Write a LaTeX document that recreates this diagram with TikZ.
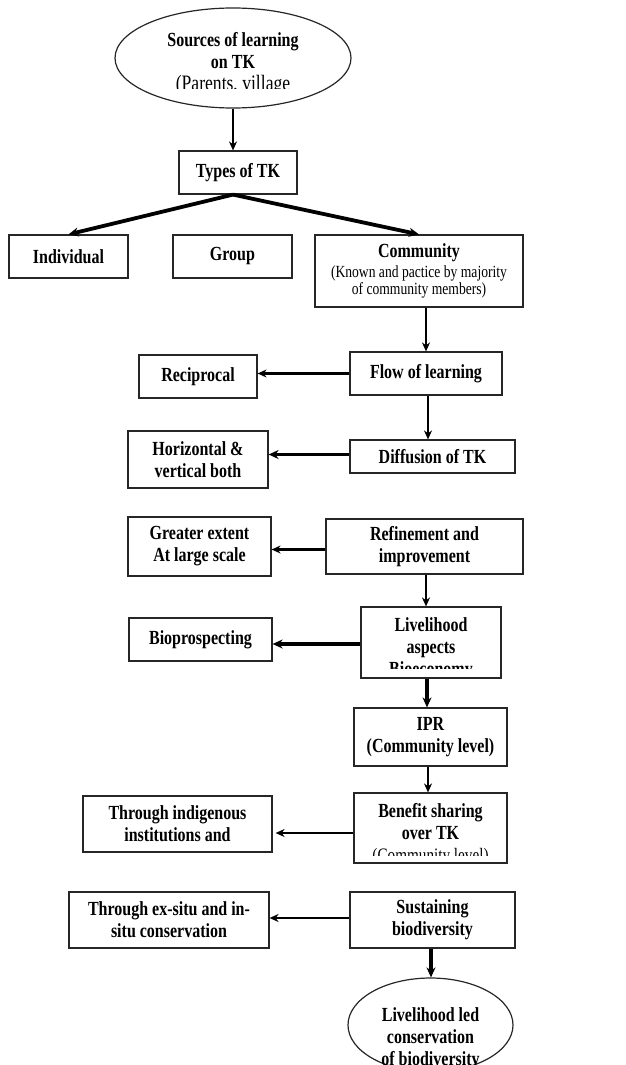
\documentclass[tikz,border=0pt]{standalone}
\usepackage{fontspec}
\setmainfont{Liberation Serif}[FakeStretch=0.8]
\usepackage{tikz}
\usetikzlibrary{arrows.meta,shapes.geometric}

\tikzset{
    tkbox/.style={draw=black!85, line width=1.2pt, inner sep=0pt, align=center,
        font=\bfseries\fontsize{20}{22}\selectfont},
    tkoval/.style={tkbox, ellipse},
    tktext/.style={align=center, inner sep=0pt, font=\bfseries\fontsize{20}{22}\selectfont},
    thinarrow/.style={-{Stealth[length=9pt,width=8pt]}, line width=2.1pt},
    midarrow/.style={-{Stealth[length=9pt,width=8pt]}, line width=2.8pt},
    thickarrow/.style={-{Stealth[length=10pt,width=9pt]}, line width=3.8pt}
}

\begin{document}
\begin{tikzpicture}[x=1pt, y=-1pt, >=Stealth]

    \useasboundingbox (0,0) rectangle (626,1065);

    % Sources
    \node[tkoval, minimum width=236pt, minimum height=100pt] (src) at (233,58) {};
    \begin{scope}
        \clip (110,0) rectangle (360,88);
        \node[tktext] (srctext) at (233,63.5)
            {Sources of learning\\on TK\\{\mdseries\fontsize{22}{22}\selectfont (Parents, village}};
    \end{scope}

    % Types of TK
    \node[tkbox, minimum width=118pt, minimum height=43pt] (types) at (238,172.5) {Types of TK};
    \node[tkbox, minimum width=119pt, minimum height=43pt] (indiv) at (68.5,256.5) {Individual};
    \node[tkbox, minimum width=119pt, minimum height=43pt] (group) at (232.5,256.5) {Group};
    \node[tkbox, minimum width=208pt, minimum height=72pt] (comm) at (419,271)
        {Community\\[-2pt]{\mdseries\fontsize{17}{18}\selectfont (Known and pactice by majority}\\[-5pt]{\mdseries\fontsize{17}{18}\selectfont of community members)}};

    % Right column
    \node[tkbox, minimum width=152pt, minimum height=43pt] (flow) at (426,373.5) {Flow of learning};
    \node[tkbox, minimum width=165pt, minimum height=33pt] (diff) at (432.5,456.5) {Diffusion of TK};
    \node[tkbox, minimum width=197pt, minimum height=55pt] (refine) at (424.5,546.5) {Refinement and\\improvement};
    \node[tkbox, minimum width=140pt, minimum height=71pt] (liveli) at (431,642.5) {};
    \begin{scope}
        \clip (361,607) rectangle (501,668);
        \node[tktext] (livelitext) at (431,648.5) {Livelihood\\aspects\\Bioeconomy};
    \end{scope}
    \node[tkbox, minimum width=153pt, minimum height=58pt] (ipr) at (430.5,737) {IPR\\(Community level)};
    \node[tkbox, minimum width=153pt, minimum height=70pt] (benefit) at (430.5,828) {};
    \begin{scope}
        \clip (354,793) rectangle (507,855);
        \node[tktext] (benefittext) at (430.5,834)
            {Benefit sharing\\over TK\\{\mdseries\fontsize{19}{22}\selectfont (Community level)}};
    \end{scope}
    \node[tkbox, minimum width=165pt, minimum height=56pt] (sustain) at (432.5,920) {Sustaining\\biodiversity};
    \node[tkoval, minimum width=165pt, minimum height=94pt] (goal) at (430.5,1025) {};
    \node[tktext] (goaltext) at (430.5,1039) {Livelihood led\\conservation\\of biodiversity};

    % Left column
    \node[tkbox, minimum width=118pt, minimum height=43pt] (recip) at (198,376.5) {Reciprocal};
    \node[tkbox, minimum width=140pt, minimum height=57pt] (horiz) at (198,459.5) {Horizontal \&\\vertical both};
    \node[tkbox, minimum width=143pt, minimum height=59pt] (greater) at (199.5,546.5) {Greater extent\\At large scale};
    \node[tkbox, minimum width=143pt, minimum height=43pt] (biopro) at (200.5,639.5) {Bioprospecting};
    \node[tkbox, minimum width=189pt, minimum height=56pt] (indig) at (177.5,824) {Through indigenous\\institutions and};
    \node[tkbox, minimum width=200pt, minimum height=56pt] (exsitu) at (169,920) {Through ex-situ and in-\\situ conservation};

    % Arrows down
    \draw[thinarrow] (src.south) -- (src.south |- types.north);
    \draw[thickarrow] ([xshift=-5pt]types.south) -- (indiv.north);
    \draw[thickarrow] ([xshift=-5pt]types.south) -- (comm.north);
    \draw[midarrow] (flow.north |- comm.south) -- (flow.north);
    \draw[midarrow] ([xshift=2pt]flow.south) -- ([xshift=2pt]flow.south |- diff.north);
    \draw[midarrow] ([xshift=1.5pt]refine.south) -- ([xshift=1.5pt]refine.south |- liveli.north);
    \draw[thickarrow] ([xshift=-4pt]liveli.south) -- ([xshift=-4pt]liveli.south |- ipr.north);
    \draw[thinarrow] ([xshift=-2.5pt]ipr.south) -- ([xshift=-2.5pt]ipr.south |- benefit.north);
    \draw[thickarrow] ([xshift=-1.5pt]sustain.south) -- ([xshift=-1.5pt]sustain.south |- goal.north);

    % Arrows left
    \draw[thinarrow] (flow.west) -- (flow.west -| recip.east);
    \draw[thickarrow] ([yshift=2pt]diff.west) -- ([yshift=2pt]diff.west -| horiz.east);
    \draw[midarrow] ([yshift=-3pt]refine.west) -- ([yshift=-3pt]refine.west -| greater.east);
    \draw[thickarrow] ([yshift=-1.5pt]liveli.west) -- ([yshift=-1.5pt]liveli.west -| biopro.east);
    \draw[thinarrow] ([yshift=-5pt]benefit.west) -- ([yshift=-5pt,xshift=3pt]benefit.west -| indig.east);
    \draw[thinarrow] ([yshift=2pt]sustain.west) -- ([yshift=2pt]sustain.west -| exsitu.east);

\end{tikzpicture}
\end{document}
